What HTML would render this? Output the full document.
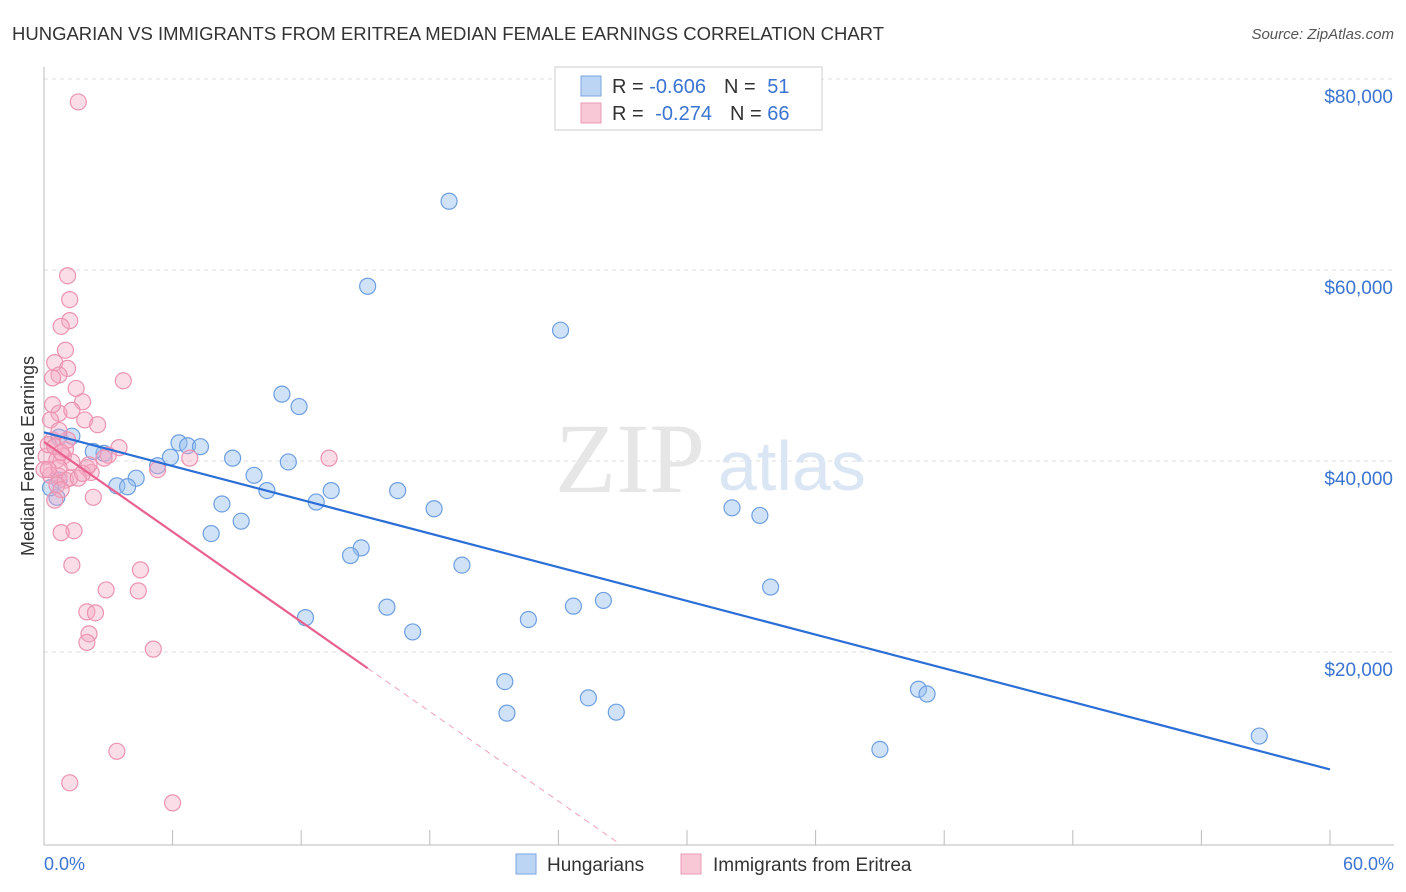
<!DOCTYPE html>
<html><head><meta charset="utf-8"><style>
body{margin:0;background:#fff;font-family:"Liberation Sans",sans-serif}
#wrap{position:relative;width:1406px;height:892px;overflow:hidden}
</style></head><body>
<div id="wrap">
<svg id="svg" width="1406" height="892" xmlns="http://www.w3.org/2000/svg">
<text x="12" y="40" font-size="18.5" fill="#333">HUNGARIAN VS IMMIGRANTS FROM ERITREA MEDIAN FEMALE EARNINGS CORRELATION CHART</text>
<text x="1394" y="39" font-size="15" fill="#555" font-style="italic" text-anchor="end">Source: ZipAtlas.com</text>
<g id="grid"></g>
<g id="axes"></g>
<text x="555" y="492" font-size="100" font-family="Liberation Serif" fill="#e6e6e6">ZIP</text>
<text x="718" y="490" font-size="70" fill="#dbe6f4">atlas</text>
<g id="pts"></g>
<g id="lines"></g>
<text transform="translate(34,456) rotate(-90)" font-size="18" fill="#333" text-anchor="middle">Median Female Earnings</text>
<text x="44" y="870" font-size="18" fill="#3b74d1">0.0%</text>
<text x="1394" y="870" font-size="18" fill="#3b74d1" text-anchor="end">60.0%</text>
<g>
<rect x="555" y="67" width="267" height="63" fill="#fff" stroke="#ccc"/>
<rect x="581" y="76" width="20" height="20" fill="#bcd5f5" stroke="#7aa6e0"/>
<rect x="581" y="103" width="20" height="20" fill="#f9c8d7" stroke="#eb9ab5"/>
<text x="612" y="93" font-size="20" fill="#333">R = <tspan fill="#3b74d1">-0.606</tspan><tspan dx="18">N = </tspan><tspan fill="#3b74d1" dx="6">51</tspan></text>
<text x="612" y="120" font-size="20" fill="#333">R = <tspan dx="6" fill="#3b74d1">-0.274</tspan><tspan dx="18">N = </tspan><tspan fill="#3b74d1">66</tspan></text>
</g>
<g>
<rect x="516" y="854" width="20" height="20" fill="#bcd5f5" stroke="#7aa6e0"/>
<text x="547" y="871" font-size="19" fill="#333">Hungarians</text>
<rect x="681" y="854" width="20" height="20" fill="#f9c8d7" stroke="#eb9ab5"/>
<text x="713" y="871" font-size="19" fill="#333">Immigrants from Eritrea</text>
</g>
</svg>
</div>
<script>
const yTicks=[20000,40000,60000,80000];
const yTickLabels=["$20,000","$40,000","$60,000","$80,000"];
const xTicks=[0,6,12,18,24,30,36,42,48,54,60];
const blueX=[18.9,15.1,24.1,11.1,11.9,6.3,6.7,7.3,5.9,8.8,11.4,5.3,2.8,1.3,2.3,9.8,4.3,3.4,3.9,10.4,8.3,12.7,13.4,16.5,18.2,9.2,7.8,14.8,14.3,19.5,12.2,16.0,17.2,22.6,24.7,26.1,33.9,32.1,33.4,21.5,21.6,25.4,26.7,40.8,41.2,39.0,56.7,0.7,0.7,0.6,0.3];
const blueY=[67200,58300,53700,47000,45700,41900,41600,41500,40400,40300,39900,39500,40800,42600,41000,38500,38200,37400,37300,36900,35500,35700,36900,36900,35000,33700,32400,30900,30100,29100,23600,24700,22100,23400,24800,25400,26800,35100,34300,16900,13600,15200,13700,16100,15600,9800,11200,38000,42500,36200,37200];
const pinkX=[1.6,1.1,1.2,1.2,0.8,1.0,0.5,1.1,0.7,0.4,3.7,1.5,1.8,0.7,1.9,2.5,0.3,0.4,3.5,3.0,0.9,0.1,0.6,1.3,2.0,2.2,5.3,6.8,13.3,0.7,1.0,1.2,0.3,0.6,0.8,2.3,0.5,1.4,0.8,1.3,4.5,2.9,4.4,2.0,2.4,2.1,2.0,5.1,3.4,1.2,6.0,0.2,0.5,1.0,0.0,1.6,0.7,2.8,1.1,0.7,0.4,0.2,1.3,0.8,1.8,2.1];
const pinkY=[77600,59400,56900,54700,54100,51600,50300,49700,49000,48700,48400,47600,46200,45000,44300,43800,44300,42200,41400,40600,40500,40500,40100,39900,39300,38800,39100,40300,40300,38400,38000,38200,38500,37500,37000,36200,35900,32700,32500,29100,28600,26500,26400,24200,24100,21900,21000,20300,9600,6300,4200,41700,41500,41200,39100,38200,39300,40300,42200,43200,45900,39100,45300,40900,38700,39600];
const blueTrend=[43000,7700];
const pinkTrend=[42000,18300,15.1,26.8];
const NS="http://www.w3.org/2000/svg";
const X=v=>44+v*(1286/60);
const Y=v=>843-v*(191/20000);
function mk(tag,at,parent){const e=document.createElementNS(NS,tag);for(const k in at)e.setAttribute(k,at[k]);document.getElementById(parent).appendChild(e);return e;}
yTicks.forEach((t,i)=>{
 const l=mk('line',{x1:44,x2:1394,y1:Y(t),y2:Y(t),stroke:'#ddd','stroke-dasharray':'4,4'},'grid');
 
 
 const tx=mk('text',{x:1393,y:Y(t)+24,'font-size':19,fill:'#3b74d1','text-anchor':'end'},'grid');
 tx.textContent=yTickLabels[i];
 
 
});
mk('line',{x1:44,x2:44,y1:67,y2:845,stroke:'#bbb'},'axes');
mk('line',{x1:44,x2:1394,y1:845,y2:845,stroke:'#bbb'},'axes');
xTicks.forEach(t=>{
 const l=mk('line',{x1:X(t),x2:X(t),y1:830,y2:845,stroke:'#bbb'},'axes');
 
 
});
blueX.forEach((x,i)=>{
 const c=mk('circle',{cx:X(x),cy:Y(blueY[i]),r:8,fill:'rgba(150,190,240,0.45)',stroke:'#6d9fe0','stroke-width':1.2},'pts');
 
 
});
pinkX.forEach((x,i)=>{
 const c=mk('circle',{cx:X(x),cy:Y(pinkY[i]),r:8,fill:'rgba(245,170,195,0.4)',stroke:'#ec93b1','stroke-width':1.2},'pts');
 
 
});
const bl=mk('line',{x1:X(0),y1:Y(blueTrend[0]),x2:X(60),y2:Y(blueTrend[1]),stroke:'#2b6fd6','stroke-width':2.2},'lines');


const pl=mk('line',{x1:X(0),y1:Y(pinkTrend[0]),x2:X(pinkTrend[2]),y2:Y(pinkTrend[1]),stroke:'#e8608e','stroke-width':2.2},'lines');


const pd=mk('line',{x1:X(pinkTrend[2]),y1:Y(pinkTrend[1]),x2:X(pinkTrend[3]),y2:Y(0),stroke:'#f0a0bb','stroke-width':1,'stroke-dasharray':'6,5'},'lines');


</script>
</body></html>
